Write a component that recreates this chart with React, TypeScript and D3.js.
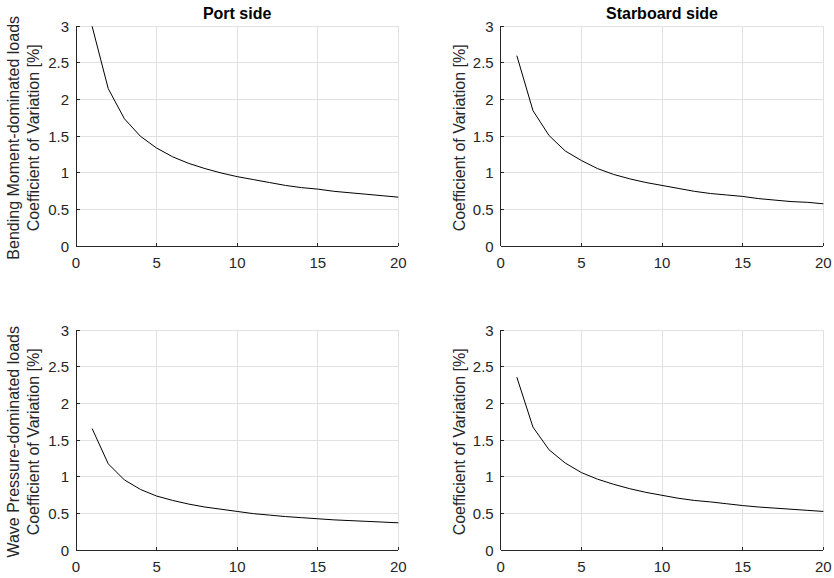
import React, { useEffect, useRef } from "react";
import * as d3 from "d3";

const nValues = [1, 2, 3, 4, 5, 6, 7, 8, 9, 10, 11, 12, 13, 14, 15, 16, 17, 18, 19, 20];
const portBending = [3.0, 2.15, 1.74, 1.5, 1.34, 1.22, 1.13, 1.06, 1.0, 0.95, 0.91, 0.87, 0.83, 0.8, 0.78, 0.75, 0.73, 0.71, 0.69, 0.67];
const starboardBending = [2.6, 1.85, 1.51, 1.3, 1.17, 1.06, 0.98, 0.92, 0.87, 0.83, 0.79, 0.75, 0.72, 0.7, 0.68, 0.65, 0.63, 0.61, 0.6, 0.58];
const portWave = [1.66, 1.18, 0.96, 0.83, 0.74, 0.68, 0.63, 0.59, 0.56, 0.53, 0.5, 0.48, 0.46, 0.445, 0.43, 0.415, 0.405, 0.395, 0.385, 0.375];
const starboardWave = [2.36, 1.68, 1.37, 1.19, 1.06, 0.97, 0.9, 0.84, 0.79, 0.75, 0.71, 0.68, 0.66, 0.635, 0.61, 0.59, 0.575, 0.56, 0.545, 0.53];
const xTicks = [0, 5, 10, 15, 20];
const yTicks = [0, 0.5, 1, 1.5, 2, 2.5, 3];
const yTickLabels = ["0", "0.5", "1", "1.5", "2", "2.5", "3"];
const titles = ["Port side", "Starboard side"];
const rowLabels = ["Bending Moment-dominated loads", "Wave Pressure-dominated loads"];
const yLabel = "Coefficient of Variation [%]";

const W = 834;
const H = 578;
const FONT = "'Liberation Sans', Arial, Helvetica, sans-serif";
const TXT = "#262626";

export default function App() {
  const ref = useRef<SVGSVGElement>(null);
  useEffect(() => {
    const svg = d3.select(ref.current);
    svg.selectAll("*").remove();
    const panels = [
      { data: portBending, col: 0, row: 0 },
      { data: starboardBending, col: 1, row: 0 },
      { data: portWave, col: 0, row: 1 },
      { data: starboardWave, col: 1, row: 1 },
    ];
    const colX = [[76, 398.3], [500.7, 823.3]];
    const rowY = [[26.3, 246.3], [330.3, 550.3]];
    panels.forEach((p) => {
      const x = d3.scaleLinear().domain([0, 20]).range(colX[p.col]);
      const y = d3.scaleLinear().domain([0, 3]).range([rowY[p.row][1], rowY[p.row][0]]);
      const g = svg.append("g");
      // grid
      g.selectAll("line.gx").data(xTicks.filter((t) => t > 0)).join("line")
        .attr("x1", (d) => x(d)).attr("x2", (d) => x(d))
        .attr("y1", y(0)).attr("y2", y(3))
        .attr("stroke", "#e1e1e1").attr("stroke-width", 1).attr("shape-rendering", "crispEdges");
      g.selectAll("line.gy").data(yTicks.filter((t) => t > 0)).join("line")
        .attr("x1", x(0)).attr("x2", x(20))
        .attr("y1", (d) => y(d)).attr("y2", (d) => y(d))
        .attr("stroke", "#e1e1e1").attr("stroke-width", 1).attr("shape-rendering", "crispEdges");
      // axes
      g.append("line").attr("x1", x(0)).attr("x2", x(20)).attr("y1", y(0)).attr("y2", y(0))
        .attr("stroke", TXT).attr("stroke-width", 1).attr("shape-rendering", "crispEdges");
      g.append("line").attr("x1", x(0)).attr("x2", x(0)).attr("y1", y(0)).attr("y2", y(3))
        .attr("stroke", TXT).attr("stroke-width", 1).attr("shape-rendering", "crispEdges");
      // ticks
      g.selectAll("line.tx").data(xTicks).join("line")
        .attr("x1", (d) => x(d)).attr("x2", (d) => x(d))
        .attr("y1", y(0)).attr("y2", y(0) - 3.5)
        .attr("stroke", TXT).attr("shape-rendering", "crispEdges");
      g.selectAll("line.ty").data(yTicks).join("line")
        .attr("x1", x(0)).attr("x2", x(0) + 3.5)
        .attr("y1", (d) => y(d)).attr("y2", (d) => y(d))
        .attr("stroke", TXT).attr("shape-rendering", "crispEdges");
      // tick labels
      g.selectAll("text.xl").data(xTicks).join("text")
        .attr("x", (d) => x(d)).attr("y", y(0) + 22)
        .attr("text-anchor", "middle").attr("font-size", 15)
        .attr("font-family", FONT).attr("fill", TXT).text((d) => String(d));
      g.selectAll("text.yl").data(yTicks).join("text")
        .attr("x", x(0) - 7).attr("y", (d) => y(d) + 5.4)
        .attr("text-anchor", "end").attr("font-size", 15)
        .attr("font-family", FONT).attr("fill", TXT).text((d, i) => yTickLabels[i]);
      // line
      const line = d3.line<number>().x((d, i) => x(nValues[i])).y((d) => y(d));
      g.append("path").attr("d", line(p.data) || "").attr("fill", "none")
        .attr("stroke", "#000").attr("stroke-width", 1);
      // titles
      if (p.row === 0) {
        g.append("text").attr("x", (colX[p.col][0] + colX[p.col][1]) / 2).attr("y", 18.5)
          .attr("text-anchor", "middle").attr("font-size", 16).attr("font-weight", "bold")
          .attr("font-family", FONT).attr("fill", "#000").text(titles[p.col]);
      }
      const cy = (rowY[p.row][0] + rowY[p.row][1]) / 2 + 1.5;
      if (p.col === 0) {
        g.append("text").attr("transform", `translate(18.5,${cy}) rotate(-90)`)
          .attr("text-anchor", "middle").attr("font-size", 16)
          .attr("font-family", FONT).attr("fill", TXT).text(rowLabels[p.row]);
        g.append("text").attr("transform", `translate(38.5,${cy}) rotate(-90)`)
          .attr("text-anchor", "middle").attr("font-size", 16)
          .attr("font-family", FONT).attr("fill", TXT).text(yLabel);
      } else {
        g.append("text").attr("transform", `translate(464.5,${cy}) rotate(-90)`)
          .attr("text-anchor", "middle").attr("font-size", 16)
          .attr("font-family", FONT).attr("fill", TXT).text(yLabel);
      }
    });
  }, []);
  return (
    <svg ref={ref} width={W} height={H}
      style={{ position: "absolute", left: 0, top: 0, background: "#fff" }} />
  );
}
